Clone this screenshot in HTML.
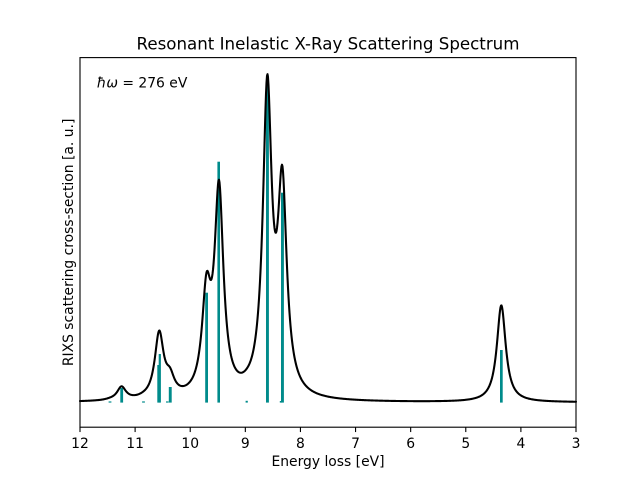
<!DOCTYPE html>
<html>
<head>
<meta charset="utf-8">
<style>
  html, body { margin: 0; padding: 0; background: #ffffff; }
  svg { display: block; }
  text { font-family: "DejaVu Sans", "Liberation Sans", sans-serif; fill: #000; }
</style>
</head>
<body>
<svg id="chart" width="640" height="480" viewBox="0 0 640 480" xmlns="http://www.w3.org/2000/svg">
  <rect x="0" y="0" width="640" height="480" fill="#ffffff"/>

  <!-- stick bars -->
  <g fill="#008b8b" id="bars">
    <rect x="108.6" y="401.4" width="2.8" height="1.2"/>
    <rect x="120.3" y="388.0" width="2.8" height="14.6"/>
    <rect x="142.1" y="401.4" width="2.8" height="1.2"/>
    <rect x="157.3" y="365.0" width="2.4" height="37.6"/>
    <rect x="158.7" y="354.0" width="2.2" height="48.6"/>
    <rect x="166.0" y="401.4" width="2.6" height="1.2"/>
    <rect x="168.8" y="387.0" width="2.9" height="15.6"/>
    <rect x="205.2" y="292.7" width="2.8" height="109.9"/>
    <rect x="217.4" y="161.7" width="2.6" height="240.9"/>
    <rect x="245.6" y="400.8" width="2.2" height="1.8"/>
    <rect x="266.0" y="75.5" width="2.9" height="327.1"/>
    <rect x="279.8" y="401.0" width="1.8" height="1.6"/>
    <rect x="281.0" y="192.7" width="2.9" height="209.9"/>
    <rect x="500.0" y="350.0" width="2.7" height="52.6"/>
  </g>

  <!-- spectrum line -->
  <path id="curve" d="" fill="none" stroke="#000000" stroke-width="2.08" stroke-linejoin="round" stroke-linecap="round"/>

  <!-- axes frame -->
  <rect x="80" y="57.6" width="496" height="369.6" fill="none" stroke="#000" stroke-width="1.11"/>

  <!-- x ticks -->
  <g stroke="#000" stroke-width="1.11" id="ticks"></g>
  <g font-size="13.89" text-anchor="middle" id="ticklabels"></g>

  <!-- labels -->
  <text x="328" y="49.3" font-size="16.67" text-anchor="middle">Resonant Inelastic X-Ray Scattering Spectrum</text>
  <text x="328" y="466" font-size="13.89" text-anchor="middle">Energy loss [eV]</text>
  <text transform="translate(73.2,242.4) rotate(-90)" font-size="13.89" text-anchor="middle">RIXS scattering cross-section [a. u.]</text>
  <text x="96.7" y="87.3" font-size="13.89"><tspan font-style="italic">ħω</tspan> = 276 eV</text>
</svg>

<script>
(function(){
  var g2 = 5.35*5.35;
  var y0 = 402.5;
  var peaks = [
    [501.3, 96.8],
    [267.3, 302.0],
    [282.3, 200.0],
    [219.0, 202.3],
    [206.5, 94.2],
    [159.2, 64.5],
    [170.0, 16.5],
    [121.5, 13.0],
    [110.0, 0.5],
    [143.5, 0.5],
    [246.7, 1.0],
    [280.5, 1.0]
  ];
  var d = "";
  for (var x = 80; x <= 576.001; x += 0.5) {
    var s = 0;
    for (var i = 0; i < peaks.length; i++) {
      var dx = x - peaks[i][0];
      s += peaks[i][1] * g2 / (dx*dx + g2);
    }
    var y = y0 - s;
    d += (x === 80 ? "M" : "L") + x.toFixed(2) + "," + y.toFixed(2);
  }
  document.getElementById("curve").setAttribute("d", d);

  var ns = "http://www.w3.org/2000/svg";
  var ticks = document.getElementById("ticks");
  var labels = document.getElementById("ticklabels");
  for (var e = 12; e >= 3; e--) {
    var px = 80 + (12 - e) * 496 / 9;
    var ln = document.createElementNS(ns, "line");
    ln.setAttribute("x1", px); ln.setAttribute("x2", px);
    ln.setAttribute("y1", 427.2); ln.setAttribute("y2", 432.06);
    ticks.appendChild(ln);
    var t = document.createElementNS(ns, "text");
    t.setAttribute("x", px); t.setAttribute("y", 447.9);
    t.textContent = String(e);
    labels.appendChild(t);
  }
})();
</script>
</body>
</html>
